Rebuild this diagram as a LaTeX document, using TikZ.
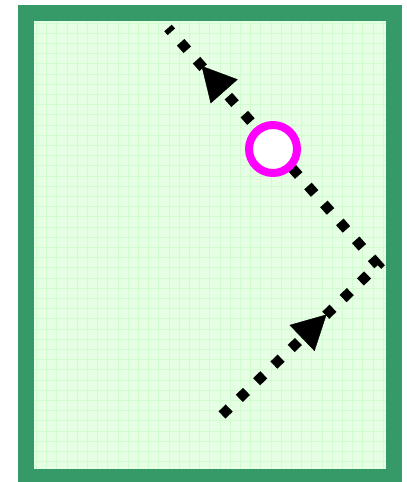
\documentclass[tikz,border=0pt]{standalone}
\usetikzlibrary{arrows.meta,decorations.markings}
\definecolor{bordergreen}{RGB}{53,153,104}
\definecolor{paper}{RGB}{230,255,228}
\definecolor{gridline}{RGB}{208,252,208}
\definecolor{ringcol}{RGB}{255,0,255}
\tikzset{
  frame/.style={draw=bordergreen,line width=16pt,fill=paper},
  gridln/.style={draw=gridline,line width=0.9pt},
  route/.style={draw=black,line width=10pt,dash pattern=on 10pt off 14pt},
  marker/.style={circle,draw=ringcol,line width=8pt,fill=white,minimum size=48pt,inner sep=0pt},
  headat/.style={postaction={decorate,decoration={markings,
     mark=at position #1 with {\arrow{Triangle[length=34pt,width=36pt]}}}}}
}
\begin{document}
\begin{tikzpicture}[x=1pt,y=-1pt]
\useasboundingbox (0,0) rectangle (407,482);
\path[frame] (26,13) rectangle (394,477);
\foreach \i in {0,...,34} {
  \pgfmathsetmacro\xx{36.5+10.2*\i}
  \draw[gridln] (\xx,21) -- (\xx,469);
}
\foreach \j in {0,...,43} {
  \pgfmathsetmacro\yy{23.1+10.2*\j}
  \draw[gridln] (34,\yy) -- (386,\yy);
}
\coordinate (s) at (222,415);
\coordinate (c) at (378,265);
\coordinate (e) at (168,28);
\draw[route] (s) -- (c) -- (e);
\path[headat=0.67] (s) -- (c);
\path[headat=0.84] (c) -- (e);
\node[marker] (ring) at (273,149) {};
\end{tikzpicture}
\end{document}
